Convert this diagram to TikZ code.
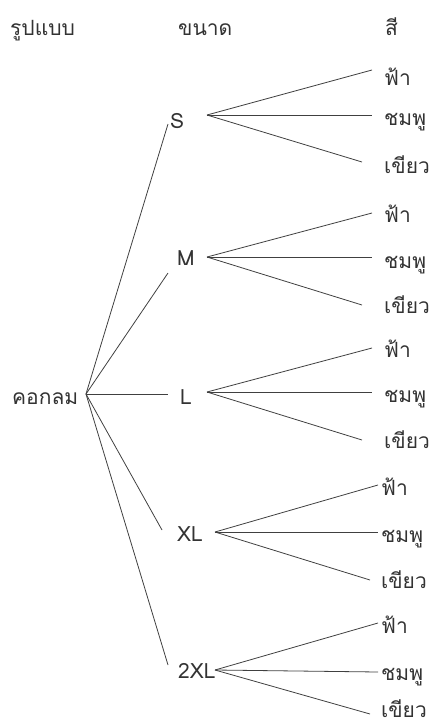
\documentclass[tikz,border=0pt]{standalone}
\usepackage{fontspec}
\newfontfamily\thaifont[Script=Thai]{Loma}
\begin{document}
\begin{tikzpicture}[x=1pt,y=-1pt,
  lbl/.style={anchor=base west,inner sep=0pt,font=\thaifont\fontsize{21}{25}\selectfont,text=black!80},
  br/.style={draw=black!75,line width=0.8pt}]
\useasboundingbox (0,0) rectangle (432,726);
% headers
\node[lbl] (h1) at (10,35) {รูปแบบ};
\node[lbl] (h2) at (178,35) {ขนาด};
\node[lbl] (h3) at (385,35) {สี};
% root
\node[lbl] (root) at (12,404) {คอกลม};
\coordinate (r) at (86,394);
% sizes
\node[lbl] (s) at (170,128) {S};
\node[lbl] (m) at (177,265) {M};
\node[lbl] (l) at (180,404) {L};
\node[lbl] (xl) at (177,541) {XL};
\node[lbl] (xxl) at (178,678) {2XL};
\coordinate (sin) at (168,124);
\coordinate (min) at (168,273);
\coordinate (lin) at (168,394);
\coordinate (xlin) at (162,530);
\coordinate (xxlin) at (168,665);
\draw[br] (r) -- (sin);
\draw[br] (r) -- (min);
\draw[br] (r) -- (lin);
\draw[br] (r) -- (xlin);
\draw[br] (r) -- (xxlin);
% fan origins
\coordinate (so) at (207,115);
\coordinate (mo) at (207,257);
\coordinate (lo) at (207,392);
\coordinate (xlo) at (215,532);
\coordinate (xxlo) at (215,670);
% S colours
\node[lbl] (s1) at (384,85) {ฟ้า};
\node[lbl] (s2) at (384,125) {ชมพู};
\node[lbl] (s3) at (384,173) {เขียว};
\coordinate (s1e) at (372,70);
\coordinate (s2e) at (372,115);
\coordinate (s3e) at (362,162);
\draw[br] (so) -- (s1e); \draw[br] (so) -- (s2e); \draw[br] (so) -- (s3e);
% M colours
\node[lbl] (m1) at (384,222) {ฟ้า};
\node[lbl] (m2) at (384,268) {ชมพู};
\node[lbl] (m3) at (384,313) {เขียว};
\coordinate (m1e) at (372,213);
\coordinate (m2e) at (372,257);
\coordinate (m3e) at (362,305);
\draw[br] (mo) -- (m1e); \draw[br] (mo) -- (m2e); \draw[br] (mo) -- (m3e);
% L colours
\node[lbl] (l1) at (384,357) {ฟ้า};
\node[lbl] (l2) at (384,402) {ชมพู};
\node[lbl] (l3) at (384,448) {เขียว};
\coordinate (l1e) at (372,348);
\coordinate (l2e) at (372,392);
\coordinate (l3e) at (362,440);
\draw[br] (lo) -- (l1e); \draw[br] (lo) -- (l2e); \draw[br] (lo) -- (l3e);
% XL colours
\node[lbl] (xl1) at (381,495) {ฟ้า};
\node[lbl] (xl2) at (381,542) {ชมพู};
\node[lbl] (xl3) at (381,588) {เขียว};
\coordinate (xl1e) at (378,485);
\coordinate (xl2e) at (378,532);
\coordinate (xl3e) at (370,580);
\draw[br] (xlo) -- (xl1e); \draw[br] (xlo) -- (xl2e); \draw[br] (xlo) -- (xl3e);
% 2XL colours
\node[lbl] (xx1) at (381,633) {ฟ้า};
\node[lbl] (xx2) at (381,680) {ชมพู};
\node[lbl] (xx3) at (381,717) {เขียว};
\coordinate (xx1e) at (378,623);
\coordinate (xx2e) at (378,672);
\coordinate (xx3e) at (370,714);
\draw[br] (xxlo) -- (xx1e); \draw[br] (xxlo) -- (xx2e); \draw[br] (xxlo) -- (xx3e);
\end{tikzpicture}
\end{document}
